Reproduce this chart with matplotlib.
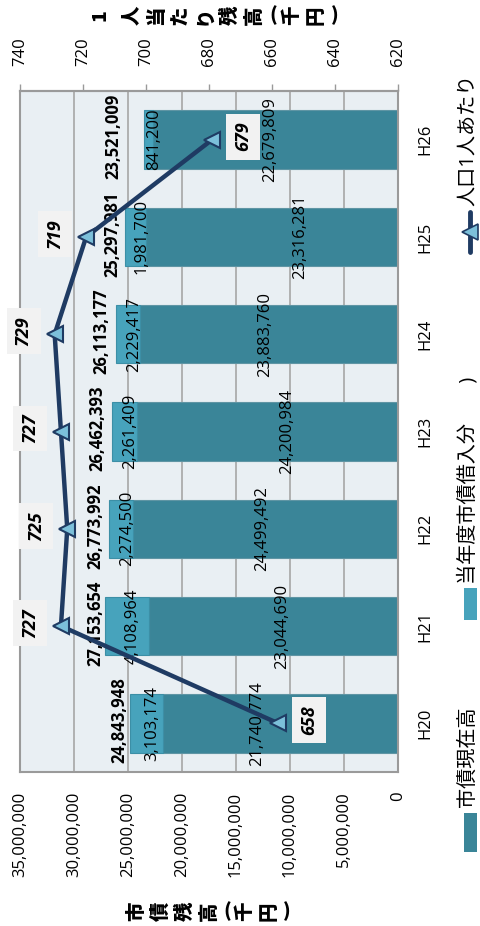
import matplotlib
matplotlib.use("Agg")
import matplotlib.pyplot as plt
from matplotlib.patches import Rectangle
from matplotlib.lines import Line2D
from matplotlib import transforms

plt.rcParams['font.family'] = ['Open Sans', 'Noto Sans CJK JP', 'DejaVu Sans']

# ---- data ----
categories = ["H20", "H21", "H22", "H23", "H24", "H25", "H26"]
current_debt = [21740774, 23044690, 24499492, 24200984, 23883760, 23316281, 22679809]
borrowed = [3103174, 4108964, 2274500, 2261409, 2229417, 1981700, 841200]
totals = [24843948, 27153654, 26773992, 26462393, 26113177, 25297981, 23521009]
per_capita = [658, 727, 725, 727, 729, 719, 679]

value_ticks = [0, 5000000, 10000000, 15000000, 20000000, 25000000, 30000000, 35000000]
pc_ticks = [620, 640, 660, 680, 700, 720, 740]

# label placement (style/layout only)
current_label_x = [13.06e6, 10.74e6, 12.59e6, 10.28e6, 12.31e6, 9.07e6, 11.85e6]
total_label_dx_px = [10, 9, 13, 15, 15, 12, 31]
pc_label_side = [1, -1, -1, -1, -1, -1, 1]   # +1: toward 0 side (right), -1: left

DARK = '#3A8598'
LIGHT = '#47A3BC'
NAVY = '#1F3B63'
BG = '#E9EFF3'
GRID = '#A6A6A6'

W, H = 480, 926
fig = plt.figure(figsize=(W / 100, H / 100), dpi=100)


def fx(x):
    return x / W


def fy(y):
    return 1 - y / H


L, R, T, B = 20, 398, 91, 772
ax = fig.add_axes([fx(L), fy(B), (R - L) / W, (B - T) / H])
ax.set_facecolor(BG)
idx = list(range(len(categories)))

ax.barh(idx, current_debt, height=0.6, color=DARK, edgecolor='#5F95A4', linewidth=0.8, zorder=2)
ax.barh(idx, borrowed, left=current_debt, height=0.6, color=LIGHT, edgecolor='#3C8FA6',
        linewidth=0.8, zorder=2)

ax.set_xlim(value_ticks[-1], value_ticks[0])
ax.set_ylim(-0.5, len(categories) - 0.5)
ax.set_xticks(value_ticks)
ax.set_xticklabels([f"{v:,}" for v in value_ticks], rotation=90, fontsize=12)
ax.tick_params(axis='x', length=0, pad=14)
ax.xaxis.grid(True, color=GRID, linewidth=1.2, zorder=0)
ax.set_axisbelow(True)

ax.yaxis.tick_right()
ax.set_yticks(idx)
ax.set_yticklabels(categories, rotation=90, fontsize=12)
for lbl in ax.get_yticklabels():
    lbl.set_va('center')
    lbl.set_ha('left')
ax.tick_params(axis='y', length=0, pad=14)

for s in ax.spines.values():
    s.set_color('#9A9A9A')
    s.set_linewidth(1.5)

# segment labels
for i in idx:
    ax.text(current_label_x[i], i, f"{current_debt[i]:,}", rotation=90, ha='center',
            va='center', fontsize=12, color='black', zorder=5)
    off = transforms.offset_copy(ax.transData, fig=fig, x=6 * 72 / 100, y=0, units='points')
    ax.text(current_debt[i] + borrowed[i] / 2, i, f"{borrowed[i]:,}", rotation=90,
            ha='center', va='center', fontsize=12, color='black', transform=off, zorder=5)
    off2 = transforms.offset_copy(ax.transData, fig=fig, x=-total_label_dx_px[i] * 0.72,
                                  y=0.03 * 72, units='points')
    ax.text(totals[i], i, f"{totals[i]:,}", rotation=90, ha='center', va='center',
            fontsize=12, fontweight='bold', color='black', transform=off2, zorder=5)

# secondary axis (per capita)
ax2 = ax.twiny()
ax2.set_xlim(pc_ticks[-1], pc_ticks[0])
ax2.set_xticks(pc_ticks)
ax2.set_xticklabels([str(v) for v in pc_ticks], rotation=90, fontsize=12)
ax2.tick_params(axis='x', length=5, width=1, color='#9A9A9A', pad=13, direction='out')
for s in ax2.spines.values():
    s.set_visible(False)
ax2.spines['top'].set_visible(True)
ax2.spines['top'].set_color('#9A9A9A')
ax2.spines['top'].set_linewidth(1.5)

ax2.plot(per_capita, idx, color=NAVY, linewidth=3.2, marker='<', markersize=12,
         markerfacecolor='#7CC0DA', markeredgecolor=NAVY, markeredgewidth=1.5, zorder=4)

for i in idx:
    off3 = transforms.offset_copy(ax2.transData, fig=fig, x=pc_label_side[i] * 31 * 0.72,
                                  y=0.03 * 72, units='points')
    ax2.text(per_capita[i], i, str(per_capita[i]), rotation=90, ha='center', va='center',
             fontsize=13, fontweight='bold', fontstyle='italic', color='black', transform=off3,
             bbox=dict(boxstyle='square,pad=0.45', fc='#F2F2F2', ec='none'), zorder=6)


# vertical-style axis titles (each character rotated)
def vtitle(text, x0, y, kanji_w=24.5, paren_w=12, first_w=None):
    x = x0
    prev_w = None
    for n, ch in enumerate(text):
        w = paren_w if ch in '()' else kanji_w
        if n == 0 and first_w is not None:
            w = first_w
        if prev_w is not None:
            x += (prev_w + w) / 2
        rot = 0 if ch in '()' else 90
        fig.text(fx(x), fy(y), ch, rotation=rot, ha='center', va='center', fontsize=14,
                 fontweight='black', family=['Noto Sans CJK JP', 'DejaVu Sans'])
        prev_w = w


vtitle("1人当たり残高(千円)", 100, 15, kanji_w=24.5, paren_w=13, first_w=39)
vtitle("市債残高(千円)", 137, 911, kanji_w=24, paren_w=12)

# legend (rotated layout)
fig.add_artist(Rectangle((fx(464), fy(852)), 13 / W, 39 / H, transform=fig.transFigure,
                         facecolor=DARK, edgecolor='none'))
fig.text(fx(468), fy(807), "市債現在高", rotation=90, ha='center', va='bottom', fontsize=14.5)
fig.add_artist(Rectangle((fx(464), fy(620)), 13 / W, 32 / H, transform=fig.transFigure,
                         facecolor=LIGHT, edgecolor='none'))
fig.text(fx(468), fy(584), "当年度市債借入分　　)", rotation=90, ha='center', va='bottom',
         fontsize=14.5)
fig.add_artist(Line2D([fx(470), fx(470)], [fy(252), fy(212)], transform=fig.transFigure,
                      color=NAVY, linewidth=3.5, solid_capstyle='round'))
fig.add_artist(Line2D([fx(470)], [fy(232)], transform=fig.transFigure, marker='<',
                      markersize=11, markerfacecolor='#7CC0DA', markeredgecolor=NAVY,
                      markeredgewidth=1.2, linestyle='none'))
fig.text(fx(468), fy(206), "人口1人あたり", rotation=90, ha='center', va='bottom',
         fontsize=14.5)

fig.savefig("out.png", dpi=100)
